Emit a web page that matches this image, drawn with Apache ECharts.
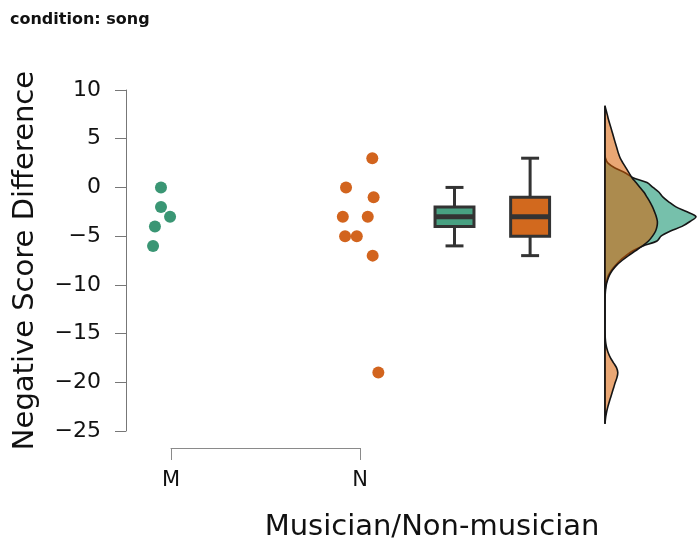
<!DOCTYPE html>
<html>
<head>
<meta charset="utf-8">
<script src="https://cdn.jsdelivr.net/npm/echarts@6/dist/echarts.min.js"></script>
<style>html,body{margin:0;padding:0;background:#fff}#c{width:697px;height:546px}</style>
</head>
<body>
<div id="c"></div>
<script>
// ---- data ----
const categories = ['M', 'N'];
const categoryPos = [1, 2];
const mScores = [0, -2, -3, -4, -6];
const mJitter = [0.947, 0.947, 0.995, 0.915, 0.905];
const nScores = [3, 0, -1, -3, -3, -5, -5, -7, -19];
const nJitter = [2.065, 1.926, 2.072, 1.909, 2.041, 1.921, 1.983, 2.067, 2.097];
// boxplot: [min, Q1, median, Q3, max]
const boxPos = [2.5, 2.9];
const mBox = [-6, -4, -3, -2, 0];
const nBox = [-7, -5, -3, -1, 3];
const yTicks = [-25, -20, -15, -10, -5, 0, 5, 10];
// densities (relative units) along score values
const densY = [8.3, 8, 7.5, 7, 6.5, 6, 5.5, 5, 4.5, 4, 3.5, 3, 2.5, 2, 1.5, 1, 0.5, 0, -0.5, -1, -1.5, -2, -2.5, -3, -3.5, -4, -4.5, -5, -5.5, -6, -6.5, -7, -7.5, -8, -8.5, -9, -9.5, -10, -10.5, -11, -11.5, -12, -12.5, -13, -13.5, -14, -14.5, -15, -15.5, -16, -16.5, -17, -17.5, -18, -18.5, -19, -19.5, -20, -20.5, -21, -21.5, -22, -22.5, -23, -23.5, -24, -24.2];
const densN = [0, 0.9, 2.2, 3.4, 4.8, 6.3, 7.7, 9.1, 10.5, 12, 13.4, 15.2, 18, 21, 24, 27, 31, 35, 39, 42, 45, 47.5, 49.5, 51.3, 52.4, 52, 50.5, 47.5, 43.5, 37.5, 30.5, 23.5, 17, 11.5, 7.4, 4.5, 2.6, 1.3, 0.6, 0.2, 0.05, 0, 0, 0, 0, 0, 0, 0.1, 0.3, 0.8, 1.8, 3.3, 5.5, 8.5, 11.5, 12.8, 12, 10.3, 8.8, 7.3, 5.8, 4.3, 2.9, 1.7, 0.8, 0.2, 0];
const densM = [0, 0, 0, 0, 0, 0, 0, 0, 0, 0, 0, 0.5, 3, 10, 20, 28, 42, 48, 54, 58, 64, 71, 82, 91, 85, 77, 65, 56, 52, 38, 28, 21, 15, 10.5, 6.5, 3.5, 2, 0.8, 0.2, 0, 0, 0, 0, 0, 0, 0, 0, 0, 0, 0, 0, 0, 0, 0, 0, 0, 0, 0, 0, 0, 0, 0, 0, 0, 0, 0, 0];

const colM = '#3a9674', colN = '#d2641e';
const boxFill = ['#48a182', '#d2691e'];
const FONT = 'DejaVu Sans';

const chart = echarts.init(document.getElementById('c'), null, {renderer: 'canvas'});

function boxItem(params, api) {
  const x = api.value(0);
  const mn = api.value(1), q1 = api.value(2), md = api.value(3), q3 = api.value(4), mx = api.value(5);
  const hw = api.size([0.206, 0])[0] / 2;
  const cw = api.size([0.095, 0])[0] / 2;
  const pMn = api.coord([x, mn]), pQ1 = api.coord([x, q1]), pMd = api.coord([x, md]);
  const pQ3 = api.coord([x, q3]), pMx = api.coord([x, mx]);
  const stroke = '#333';
  const ls = {stroke: stroke, lineWidth: 3};
  return {
    type: 'group',
    children: [
      {type: 'line', shape: {x1: pMx[0], y1: pMx[1], x2: pQ3[0], y2: pQ3[1]}, style: ls},
      {type: 'line', shape: {x1: pQ1[0], y1: pQ1[1], x2: pMn[0], y2: pMn[1]}, style: ls},
      {type: 'line', shape: {x1: pMx[0] - cw, y1: pMx[1], x2: pMx[0] + cw, y2: pMx[1]}, style: ls},
      {type: 'line', shape: {x1: pMn[0] - cw, y1: pMn[1], x2: pMn[0] + cw, y2: pMn[1]}, style: ls},
      {type: 'rect', shape: {x: pQ3[0] - hw, y: pQ3[1], width: hw * 2, height: pQ1[1] - pQ3[1]},
        style: {fill: boxFill[params.dataIndex], stroke: stroke, lineWidth: 3}},
      {type: 'line', shape: {x1: pMd[0] - hw, y1: pMd[1], x2: pMd[0] + hw, y2: pMd[1]}, style: {stroke: stroke, lineWidth: 5}}
    ]
  };
}

function densItem(values, fill) {
  return function (params, api) {
    const pts = densY.map((y, i) => api.coord([values[i], y]));
    return {
      type: 'polygon',
      shape: {points: pts, smooth: 0.3},
      style: {fill: fill, stroke: '#151515', lineWidth: 1.6}
    };
  };
}

const labelMap = {};
categoryPos.forEach((p, i) => labelMap[p] = categories[i]);

chart.setOption({
  backgroundColor: '#fff',
  animation: false,
  title: [
    {text: 'condition: song', left: 5, top: 7,
      textStyle: {fontFamily: FONT, fontWeight: 'bold', fontSize: 16, color: '#111'}},
    {text: 'Musician/Non-musician', left: 427, top: 508, textAlign: 'center',
      textStyle: {fontFamily: FONT, fontWeight: 'normal', fontSize: 29, color: '#111'}}
  ],
  grid: [
    {left: 126, top: 90, width: 571, height: 341},
    {left: 171, top: 447, width: 189, height: 1},
    {left: 605, top: 90, width: 92, height: 341}
  ],
  xAxis: [
    {type: 'value', gridIndex: 0, min: 0.7619, max: 3.783, show: false},
    {type: 'value', gridIndex: 1, min: 1, max: 2, interval: 1,
      axisLine: {show: true, lineStyle: {color: '#8a8a8a', width: 1}},
      axisTick: {show: true, length: 12, lineStyle: {color: '#8a8a8a', width: 1}},
      splitLine: {show: false},
      axisLabel: {margin: 22, fontFamily: FONT, fontSize: 21, color: '#111',
        formatter: v => labelMap[v] || ''}},
    {type: 'value', gridIndex: 2, min: 0, max: 92, show: false}
  ],
  yAxis: [
    {type: 'value', gridIndex: 0, min: yTicks[0], max: yTicks[yTicks.length - 1], interval: 5,
      name: 'Negative Score Difference', nameLocation: 'middle', nameGap: 86,
      nameTextStyle: {fontFamily: FONT, fontSize: 29, color: '#111'},
      axisLine: {show: true, lineStyle: {color: '#777', width: 1}},
      axisTick: {show: true, length: 11, lineStyle: {color: '#777', width: 1}},
      splitLine: {show: false},
      axisLabel: {margin: 25, fontFamily: FONT, fontSize: 22, color: '#111',
        formatter: v => String(v).replace('-', '\u2212')}},
    {type: 'value', gridIndex: 1, min: 0, max: 1, show: false},
    {type: 'value', gridIndex: 2, min: yTicks[0], max: yTicks[yTicks.length - 1], show: false}
  ],
  series: [
    {type: 'scatter', xAxisIndex: 0, yAxisIndex: 0, symbolSize: 12,
      itemStyle: {color: colM, opacity: 1}, data: mScores.map((v, i) => [mJitter[i], v])},
    {type: 'scatter', xAxisIndex: 0, yAxisIndex: 0, symbolSize: 12,
      itemStyle: {color: colN, opacity: 1}, data: nScores.map((v, i) => [nJitter[i], v])},
    {type: 'custom', xAxisIndex: 0, yAxisIndex: 0, renderItem: boxItem,
      encode: {x: 0, y: [1, 2, 3, 4, 5]},
      data: [[boxPos[0]].concat(mBox), [boxPos[1]].concat(nBox)]},
    {type: 'custom', xAxisIndex: 2, yAxisIndex: 2, clip: false,
      renderItem: densItem(densM, 'rgba(27,150,115,0.6)'),
      encode: {x: 0, y: 1}, data: [[0, 0]]},
    {type: 'custom', xAxisIndex: 2, yAxisIndex: 2, clip: false,
      renderItem: densItem(densN, 'rgba(217,95,2,0.55)'),
      encode: {x: 0, y: 1}, data: [[0, 0]]}
  ]
});
</script>
</body>
</html>
